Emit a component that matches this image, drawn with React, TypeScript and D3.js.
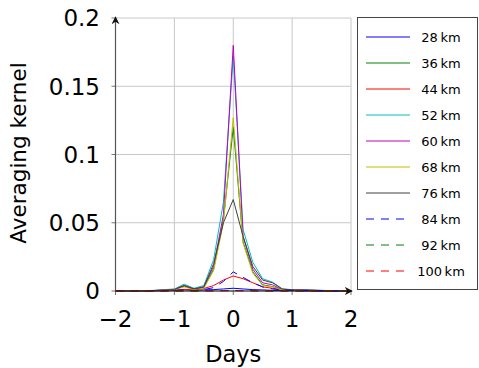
import { useRef, useEffect } from 'react';
import * as d3 from 'd3';

// sample times: every 4 hours from -2 to 2 days
const days: number[] = [
  -2, -1.833, -1.667, -1.5, -1.333, -1.167, -1, -0.833, -0.667, -0.5, -0.333, -0.167,
  0, 0.167, 0.333, 0.5, 0.667, 0.833, 1, 1.167, 1.333, 1.5, 1.667, 1.833, 2,
];

const depths = ['28 km', '36 km', '44 km', '52 km', '60 km', '68 km', '76 km', '84 km', '92 km', '100 km'];
const colors = ['#0000ff', '#008000', '#ff0000', '#00bfbf', '#bf00bf', '#bfbf00', '#404040', '#0000ff', '#008000', '#ff0000'];
const dashed = [false, false, false, false, false, false, false, true, true, true];

const k28 = [0, 0, 0, 0.0001, 0.0002, 0.0003, 0.0005, 0.001, 0.0005, 0.0008, 0.001, 0.0015, 0.002, 0.0015, 0.001, 0.0008, 0.0005, 0.0004, 0.0003, 0.0002, 0.0001, 0, 0, 0, 0];
const k36 = [0, 0, 0, 0.0002, 0.0003, 0.0006, 0.001, 0.0035, 0.0012, 0.0025, 0.016, 0.052, 0.12, 0.036, 0.014, 0.0045, 0.0032, 0.0009, 0.0006, 0.0006, 0.0004, 0.0003, 0.0002, 0.0001, 0];
const k44 = [0, 0, 0, 0, 0.0001, 0.0002, 0.0004, 0.0012, 0.0006, 0.0018, 0.004, 0.008, 0.011, 0.009, 0.006, 0.003, 0.002, 0.001, 0.0004, 0.0003, 0.0002, 0.0001, 0, 0, 0];
const k52 = [0, 0, 0, 0.0003, 0.0005, 0.001, 0.0015, 0.005, 0.002, 0.004, 0.023, 0.065, 0.172, 0.045, 0.021, 0.009, 0.0065, 0.0015, 0.001, 0.001, 0.0008, 0.0005, 0.0003, 0.0002, 0];
const k60 = [0, 0, 0, 0.0002, 0.0004, 0.0008, 0.0012, 0.004, 0.0015, 0.003, 0.018, 0.056, 0.18, 0.04, 0.016, 0.006, 0.0045, 0.001, 0.0008, 0.0008, 0.0006, 0.0004, 0.0002, 0.0001, 0];
const k68 = [0, 0, 0, 0.0002, 0.0003, 0.0006, 0.001, 0.003, 0.001, 0.002, 0.015, 0.05, 0.127, 0.035, 0.013, 0.004, 0.003, 0.0008, 0.0005, 0.0005, 0.0004, 0.0003, 0.0002, 0.0001, 0];
const k76 = [0, 0, 0, 0.0002, 0.0004, 0.0007, 0.001, 0.004, 0.0015, 0.003, 0.02, 0.05, 0.067, 0.04, 0.018, 0.008, 0.006, 0.0015, 0.0008, 0.0007, 0.0005, 0.0003, 0.0002, 0.0001, 0];
const k84 = [0, 0, 0, 0, 0.0001, 0.0002, 0.0004, 0.0008, 0.0004, 0.001, 0.0025, 0.007, 0.014, 0.01, 0.006, 0.003, 0.0015, 0.0008, 0.0004, 0.0002, 0.0001, 0, 0, 0, 0];
const k92 = [0, 0, 0, 0, 0, 0, 0, 0.0001, 0, 0.0001, 0.0002, 0.0003, 0.0004, 0.0003, 0.0002, 0.0001, 0, 0, 0, 0, 0, 0, 0, 0, 0];
const k100 = [0, 0, 0, 0, 0, 0, 0, 0, 0, 0, 0.0001, 0.0002, 0.0002, 0.0002, 0.0001, 0, 0, 0, 0, 0, 0, 0, 0, 0, 0];

const kernels = [k28, k36, k44, k52, k60, k68, k76, k84, k92, k100];

const xTicks = [-2, -1, 0, 1, 2];
const yTicks = [0, 0.05, 0.1, 0.15, 0.2];

export default function App() {
  const ref = useRef<SVGSVGElement>(null);

  useEffect(() => {
    if (!ref.current) return;
    const svg = d3.select(ref.current);
    svg.selectAll('*').remove();

    const font = 'DejaVu Sans, sans-serif';
    const x = d3.scaleLinear().domain([-2, 2]).range([115.5, 351]);
    const y = d3.scaleLinear().domain([0, 0.2]).range([291, 18]);

    const defs = svg.append('defs');
    defs.append('marker')
      .attr('id', 'arrow')
      .attr('viewBox', '0 0 10 10')
      .attr('refX', 9).attr('refY', 5)
      .attr('markerWidth', 8).attr('markerHeight', 8)
      .attr('markerUnits', 'userSpaceOnUse')
      .attr('orient', 'auto')
      .append('path')
      .attr('d', 'M0,0 L10,5 L0,10 L3,5 Z')
      .attr('fill', '#111');

    // grid
    const grid = svg.append('g').attr('stroke', '#c8c8c8').attr('stroke-width', 1);
    xTicks.forEach(t => {
      grid.append('line').attr('x1', x(t)).attr('x2', x(t)).attr('y1', y(0)).attr('y2', y(0.2));
    });
    yTicks.forEach(t => {
      grid.append('line').attr('x1', x(-2)).attr('x2', x(2)).attr('y1', y(t)).attr('y2', y(t));
    });

    // tick marks
    const ticks = svg.append('g').attr('stroke', '#777').attr('stroke-width', 1);
    xTicks.forEach(t => {
      ticks.append('line').attr('x1', x(t)).attr('x2', x(t)).attr('y1', y(0)).attr('y2', y(0) + 4);
    });
    yTicks.forEach(t => {
      ticks.append('line').attr('x1', x(-2) - 4).attr('x2', x(-2)).attr('y1', y(t)).attr('y2', y(t));
    });

    // curves
    const line = d3.line<number>()
      .x((d, i) => x(days[i]))
      .y(d => y(d));

    kernels.forEach((k, i) => {
      svg.append('path')
        .datum(k)
        .attr('d', line)
        .attr('fill', 'none')
        .attr('stroke', colors[i])
        .attr('stroke-width', 1)
        .attr('stroke-dasharray', dashed[i] ? '8,7' : null);
    });

    // axes
    svg.append('line')
      .attr('x1', x(-2)).attr('x2', x(-2))
      .attr('y1', y(0)).attr('y2', y(0.2) - 1)
      .attr('stroke', '#555').attr('stroke-width', 1.2)
      .attr('marker-end', 'url(#arrow)');
    svg.append('line')
      .attr('x1', x(-2)).attr('x2', x(2) + 1)
      .attr('y1', y(0)).attr('y2', y(0))
      .attr('stroke', '#111').attr('stroke-width', 1.2)
      .attr('marker-end', 'url(#arrow)');

    // tick labels
    svg.append('g').selectAll('text')
      .data(xTicks)
      .join('text')
      .attr('x', d => x(d))
      .attr('y', 327)
      .attr('text-anchor', 'middle')
      .attr('font-family', font)
      .attr('font-size', 23)
      .text(d => (d < 0 ? '\u2212' + Math.abs(d) : String(d)));

    svg.append('g').selectAll('text')
      .data(yTicks)
      .join('text')
      .attr('x', 100)
      .attr('y', d => y(d))
      .attr('dy', '0.36em')
      .attr('text-anchor', 'end')
      .attr('font-family', font)
      .attr('font-size', 23)
      .text(d => String(d));

    svg.append('text')
      .attr('transform', `translate(26, 153) rotate(-90)`)
      .attr('text-anchor', 'middle')
      .attr('font-family', font)
      .attr('font-size', 21.5)
      .text('Averaging kernel');

    svg.append('text')
      .attr('x', x(0))
      .attr('y', 362)
      .attr('text-anchor', 'middle')
      .attr('font-family', font)
      .attr('font-size', 22.5)
      .text('Days');

    // legend
    const legend = svg.append('g');
    legend.append('rect')
      .attr('x', 357.5).attr('y', 17.5)
      .attr('width', 120).attr('height', 272)
      .attr('fill', 'white')
      .attr('stroke', '#444').attr('stroke-width', 1);

    depths.forEach((name, i) => {
      const ly = 37 + i * 26;
      legend.append('line')
        .attr('x1', 366).attr('x2', 410)
        .attr('y1', ly).attr('y2', ly)
        .attr('stroke', colors[i])
        .attr('stroke-width', 1)
        .attr('stroke-dasharray', dashed[i] ? '8,7' : null);
      legend.append('text')
        .attr('x', 441)
        .attr('y', ly)
        .attr('dy', '0.36em')
        .attr('text-anchor', 'middle')
        .attr('font-family', font)
        .attr('font-size', 13)
        .text(name.replace(' ', '\u2009'));
    });
  }, []);

  return (
    <svg
      ref={ref}
      width={479}
      height={368}
      style={{ position: 'absolute', left: 0, top: 0, background: 'white' }}
    />
  );
}
